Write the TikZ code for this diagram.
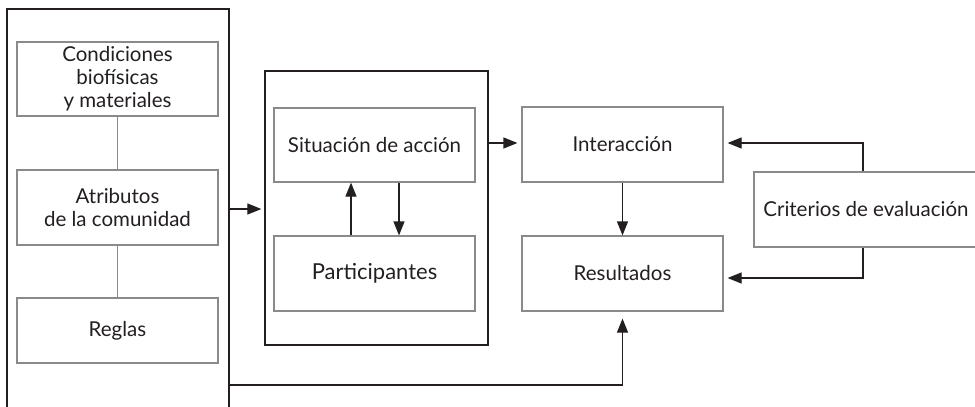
\documentclass[tikz,border=0pt]{standalone}
\usepackage{fontspec}
\setmainfont{Lato}
\usetikzlibrary{arrows.meta}
\definecolor{ink}{HTML}{231F20}
\definecolor{boxgray}{HTML}{8A8A8A}
\begin{document}
\begin{tikzpicture}[x=1pt,y=-1pt,
  outerbox/.style={draw=ink,line width=1.3pt,rectangle,inner sep=0pt},
  innerbox/.style={draw=boxgray,line width=1.2pt,rectangle,inner sep=0pt,align=center,text=ink,
     font=\fontsize{20.5}{23}\selectfont},
  link/.style={draw=boxgray,line width=1.2pt},
  arr/.style={draw=ink,line width=1.2pt,-{Triangle[length=14pt,width=11pt]}}
]
\useasboundingbox (0,0) rectangle (975,407);
% left outer box
\node[outerbox,minimum width=222pt,minimum height=412pt] (L) at (118,215) {};
\node[innerbox,minimum width=201pt,minimum height=74pt] (cond) at (117.5,79) {Condiciones\\biofísicas\\y materiales};
\node[innerbox,minimum width=201pt,minimum height=75pt] (atr) at (117.5,207.5) {Atributos\\de la comunidad};
\node[innerbox,minimum width=201pt,minimum height=65pt] (reg) at (117.5,330.5) {Reglas};
\draw[link] (cond) -- (atr);
\draw[link] (atr) -- (reg);
% middle outer box
\node[outerbox,minimum width=223pt,minimum height=274pt] (M) at (376.5,208) {};
\node[innerbox,minimum width=201pt,minimum height=74pt] (sit) at (374.5,145) {Situación de acción};
\node[innerbox,minimum width=201pt,minimum height=75pt,font=\fontsize{22}{25}\selectfont] (par) at (374.5,273.5) {Participantes};
\draw[arr] (par.north -| 351,0) -- (sit.south -| 351,0);
\draw[arr] (sit.south -| 399,0) -- (par.north -| 399,0);
% right side
\node[innerbox,minimum width=201pt,minimum height=75pt] (int) at (622.5,144.5) {Interacción};
\node[innerbox,minimum width=201pt,minimum height=75pt] (res) at (622.5,273.5) {Resultados};
\node[innerbox,minimum width=224pt,minimum height=75pt] (cri) at (866,209.5) {Criterios de evaluación};
\draw[arr] (int) -- (res);
% connectors
\draw[arr,shorten >=3pt] (L.east |- 0,209) -- (M.west |- 0,209);
\draw[arr,shorten >=4pt] (M.east |- 0,143) -- (int.west |- 0,143);
\draw[arr,shorten >=4pt] (cri.north -| 863,0) |- (int.east |- 0,143);
\draw[arr,shorten >=4pt] (cri.south -| 863,0) |- (res.east |- 0,278);
\coordinate (loopstart) at (L.east |- 0,385);
\draw[arr,shorten >=7pt] (loopstart) -| (res.south);
\end{tikzpicture}
\end{document}
